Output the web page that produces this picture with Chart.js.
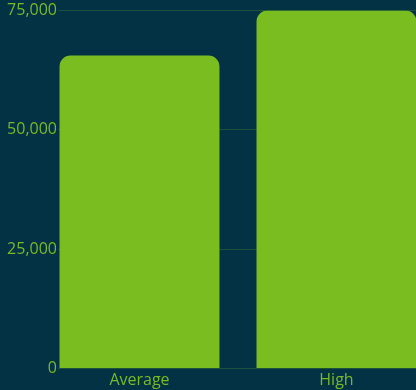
<!DOCTYPE html>
<html>
<head>
<meta charset="utf-8">
<script src="https://cdn.jsdelivr.net/npm/chart.js@4/dist/chart.umd.min.js"></script>
<style>
  html, body { margin: 0; padding: 0; background: #033244; }
  #wrap { position: relative; width: 416px; height: 390px; overflow: hidden; background: #033244; }
</style>
</head>
<body>
<div id="wrap"><canvas id="c"></canvas></div>
<script>
  // ─── data ───────────────────────────────────────────
  const categories = ['Average', 'High'];
  const salaries = [65600, 75000];
  const yTicks = [0, 25000, 50000, 75000];

  const GREEN = '#7abd21';
  const TEXT = '#78ba26';
  const FONT = "'Open Sans', sans-serif";

  // bars sit on a numeric x axis so the plot can run past the right edge like the original
  const points = categories.map(function(c, i) { return { x: i, y: salaries[i] }; });

  new Chart(document.getElementById('c'), {
    type: 'bar',
    data: {
      datasets: [{
        data: points,
        backgroundColor: GREEN,
        borderWidth: 0,
        borderRadius: 11,
        borderSkipped: 'start',
        categoryPercentage: 1,
        barPercentage: 0.812,
      }],
    },
    options: {
      responsive: true,
      maintainAspectRatio: false,
      animation: false,
      layout: { padding: 0 },
      plugins: { legend: { display: false }, tooltip: { enabled: false } },
      scales: {
        x: {
          type: 'linear',
          offset: false,
          bounds: 'data',
          min: -0.4137,
          max: 1.4036,
          grid: { display: false, drawTicks: false, offset: false },
          border: { display: false },
          afterBuildTicks: function(s) { s.ticks = categories.map(function(c, i) { return { value: i }; }); },
          afterFit: function(s) { s.height = 21.5; },
          ticks: {
            color: TEXT,
            font: { family: FONT, size: 16 },
            padding: 2,
            callback: function(v) { return categories[v]; },
          },
        },
        y: {
          min: yTicks[0],
          max: yTicks[yTicks.length - 1],
          afterBuildTicks: function(s) { s.ticks = yTicks.map(function(v) { return { value: v }; }); },
          afterFit: function(s) { s.width = 58; },
          grid: { color: 'rgba(122,189,33,0.22)', drawTicks: false, lineWidth: 1 },
          border: { display: false },
          ticks: {
            color: TEXT,
            font: { family: FONT, size: 16 },
            padding: 1,
            callback: function(v) { return v.toLocaleString('en-US'); },
          },
        },
      },
    },
  });
</script>
</body>
</html>
